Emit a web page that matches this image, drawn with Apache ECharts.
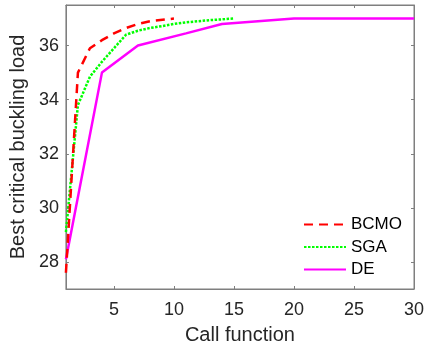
<!DOCTYPE html>
<html>
<head>
<meta charset="utf-8">
<script src="https://cdn.jsdelivr.net/npm/echarts@6/dist/echarts.min.js"></script>
<style>
  html, body { margin: 0; padding: 0; background: #fff; }
  #main { width: 432px; height: 350px; }
</style>
</head>
<body>
<div id="main"></div>
<script>
// values
var bcmoX = [1, 2, 3, 4, 5, 6, 7, 8, 10]
var bcmoY = [27.6, 35.0, 35.9, 36.2, 36.45, 36.65, 36.8, 36.9, 37.0]
var sgaX = [1, 2, 3, 4, 5, 6, 7, 8, 9, 10, 11, 12, 13, 14, 15]
var sgaY = [29.1, 33.8, 34.85, 35.4, 35.9, 36.4, 36.55, 36.65, 36.72, 36.8, 36.86, 36.9, 36.94, 36.97, 37.0]
var deX = [1, 4, 7, 11, 14, 20, 30]
var deY = [28.1, 35.0, 36.0, 36.45, 36.8, 37.0, 37.0]
var xTicks = [5, 10, 15, 20, 25, 30]
var yTicks = [28, 30, 32, 34, 36]

function pairs(xs, ys) {
  return xs.map(function (x, i) { return [x, ys[i]] })
}

var font = 'Liberation Sans, Arial, Helvetica, sans-serif'
var axisGray = '#7f7f7f'

var chart = echarts.init(document.getElementById('main'))
chart.setOption({
  animation: false,
  grid: {
    left: 64,
    right: 18,
    top: 5,
    bottom: 59,
    show: true,
    borderColor: axisGray,
    borderWidth: 1
  },
  legend: {
    orient: 'vertical',
    left: 298,
    top: 211,
    itemWidth: 42,
    itemHeight: 14,
    itemGap: 5.5,
    itemStyle: { opacity: 0 },
    textStyle: { fontFamily: font, fontSize: 17, color: '#000' },
    data: ['BCMO', 'SGA', 'DE']
  },
  xAxis: [
    {
      type: 'value',
      min: 1,
      max: 30,
      name: 'Call function',
      nameLocation: 'middle',
      nameGap: 36,
      nameTextStyle: { fontFamily: font, fontSize: 20, color: '#262626' },
      axisLine: { show: true, lineStyle: { color: axisGray } },
      axisTick: { show: true, inside: true, length: 3, customValues: xTicks, lineStyle: { color: axisGray } },
      axisLabel: { customValues: xTicks, fontFamily: font, fontSize: 18, color: '#262626', margin: 12 },
      splitLine: { show: false }
    },
    {
      type: 'value',
      min: 1,
      max: 30,
      position: 'top',
      axisLine: { show: true, lineStyle: { color: axisGray } },
      axisTick: { show: true, inside: true, length: 3, customValues: xTicks, lineStyle: { color: axisGray } },
      axisLabel: { show: false, customValues: xTicks },
      splitLine: { show: false }
    }
  ],
  yAxis: [
    {
      type: 'value',
      min: 27,
      max: 37.5,
      name: 'Best critical buckling load',
      nameLocation: 'middle',
      nameGap: 32,
      nameTextStyle: { fontFamily: font, fontSize: 20, color: '#262626' },
      axisLine: { show: true, lineStyle: { color: axisGray } },
      axisTick: { show: true, inside: true, length: 3, customValues: yTicks, lineStyle: { color: axisGray } },
      axisLabel: { customValues: yTicks, fontFamily: font, fontSize: 18, color: '#262626', margin: 7 },
      splitLine: { show: false }
    },
    {
      type: 'value',
      min: 27,
      max: 37.5,
      position: 'right',
      axisLine: { show: true, lineStyle: { color: axisGray } },
      axisTick: { show: true, inside: true, length: 3, customValues: yTicks, lineStyle: { color: axisGray } },
      axisLabel: { show: false, customValues: yTicks },
      splitLine: { show: false }
    }
  ],
  series: [
    {
      name: 'BCMO',
      type: 'line',
      data: pairs(bcmoX, bcmoY),
      symbol: 'none',
      z: 4,
      itemStyle: { color: '#ff0000' },
      lineStyle: { color: '#ff0000', width: 2.5, type: [9, 6] }
    },
    {
      name: 'SGA',
      type: 'line',
      data: pairs(sgaX, sgaY),
      symbol: 'none',
      z: 3,
      itemStyle: { color: '#00ff00' },
      lineStyle: { color: '#00ff00', width: 2.5, type: [2.5, 1.5] }
    },
    {
      name: 'DE',
      type: 'line',
      data: pairs(deX, deY),
      symbol: 'none',
      z: 2,
      itemStyle: { color: '#ff00ff' },
      lineStyle: { color: '#ff00ff', width: 2.5 }
    }
  ]
})
</script>
</body>
</html>
